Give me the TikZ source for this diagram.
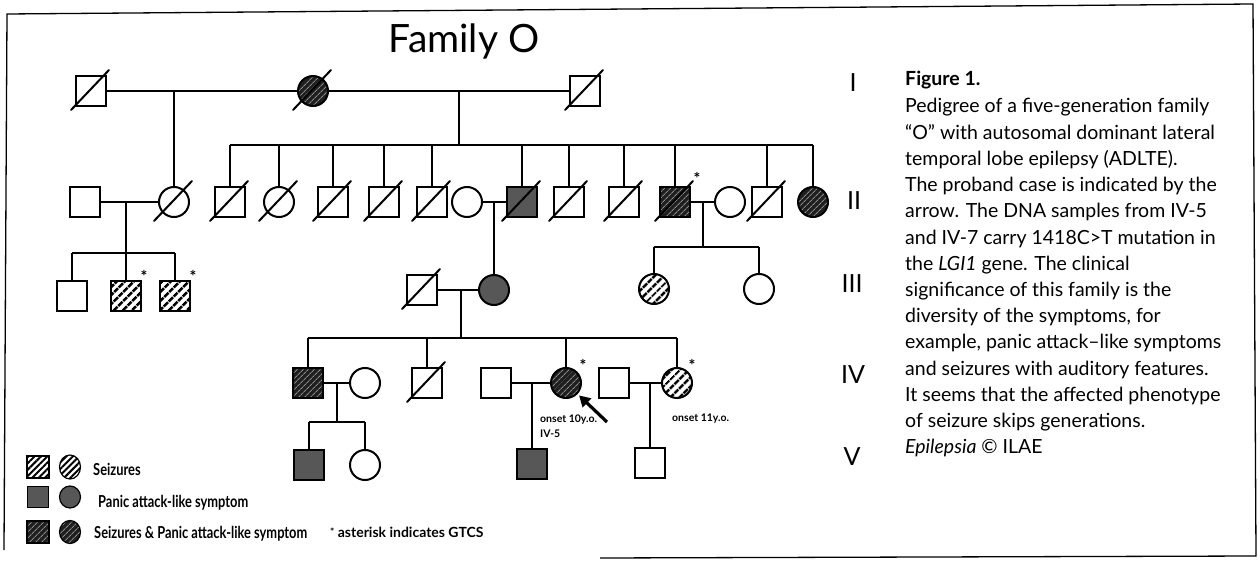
\documentclass[tikz,border=0pt]{standalone}
\usepackage{fontspec}
\setmainfont{Lato}
\newfontfamily\legfont[FakeStretch=0.78]{Lato}
\usetikzlibrary{patterns.meta,arrows.meta,shapes.geometric}

% diagonal stroke through a deceased individual
\newcommand\deceased[1]{\draw[slashline] ([shift={(-20,19)}]#1.center) -- ([shift={(18,-21)}]#1.center);}

\begin{document}
\begin{tikzpicture}[x=1pt,y=-1pt,
  ind/.style={draw=black,line width=2pt,inner sep=0pt,minimum size=30pt},
  male/.style={ind,rectangle},
  female/.style={ind,circle},
  seiz/.style={pattern={Lines[angle=45,distance=6.5pt,line width=3pt]},pattern color=black},
  seizS/.style={pattern={Lines[angle=45,distance=4.5pt,line width=2pt]},pattern color=black},
  panic/.style={fill=black!66},
  both/.style={preaction={fill=black!88},pattern={Lines[angle=45,distance=4pt,line width=0.9pt]},pattern color=black!45},
  link/.style={line width=1.8pt},
  slashline/.style={line width=2pt,line cap=round},
  gtcs/.style={font=\bfseries\fontsize{16}{16}\selectfont,inner sep=0pt},
  gen/.style={font=\fontsize{25}{25}\selectfont,inner sep=0pt},
  note/.style={font=\bfseries\fontsize{10.5}{10.5}\selectfont,inner sep=0pt,anchor=base west},
  captxt/.style={font=\fontsize{19.5}{19.5}\selectfont,inner sep=0pt,anchor=base west},
  legtxt/.style={font=\legfont\bfseries\fontsize{16.5}{16.5}\selectfont,inner sep=0pt,anchor=base west},
  legsym/.style={draw=black,line width=1.2pt,inner sep=0pt},
  probandarrow/.style={line width=3.2pt,-{Triangle[length=11pt,width=12pt]},shorten >=2pt},
]
\useasboundingbox (0,0) rectangle (1260,561);

% frame
\draw[line width=1.3pt] (4,550) -- (7,14) -- (1253,4) -- (1256,556) -- (600,558);

% title
\node[font=\fontsize{39}{39}\selectfont,inner sep=0pt,anchor=base] (title) at (464,53) {Family O};

% ---------- generation I ----------
\node[male] (I1) at (91,91) {};
\node[female,both] (I2) at (313,91) {};
\node[male] (I3) at (585,91) {};
\deceased{I1}\deceased{I2}\deceased{I3}
\coordinate (mI12) at (174,91);
\coordinate (mI23) at (459,91);
\coordinate (sibII) at (0,145);
\draw[link] (I1) -- (I2);
\draw[link] (I2) -- (I3);

% ---------- generation II ----------
\node[male] (II1) at (85,202) {};
\node[female] (II2) at (174,202) {};
\node[male] (II3) at (230,202) {};
\node[female] (II4) at (279,202) {};
\node[male] (II5) at (333,202) {};
\node[male] (II6) at (384,202) {};
\node[male] (II7) at (432,202) {};
\node[female] (II8) at (467,202) {};
\node[male,panic] (II9) at (522,202) {};
\node[male] (II10) at (569,202) {};
\node[male] (II11) at (624,202) {};
\node[male,both] (II12) at (675,202) {};
\node[female] (II13) at (730,202) {};
\node[male] (II14) at (767,202) {};
\node[female,both] (II15) at (813,202) {};
\foreach \n in {II2,II3,II4,II5,II6,II7,II9,II10,II11,II12,II14} {\deceased{\n}}
\node[gtcs] (stII12) at (697,178) {*};

% descent from I-1 x I-2
\draw[link] (mI12) -- (II2);
% descent from I-2 x I-3 and sibship
\draw[link] (mI23) -- (mI23 |- sibII);
\draw[link] (II3 |- sibII) -- (II15 |- sibII);
\foreach \n in {II3,II4,II5,II6,II7,II9,II10,II11,II12,II14,II15} {\draw[link] (\n) -- (\n |- sibII);}

% marriages in generation II
\draw[link] (II1) -- (II2);
\draw[link] (II8) -- (II9);
\draw[link] (II12) -- (II13);
\coordinate (mII12) at (126,202);
\coordinate (mII89) at (494,202);
\coordinate (mII1213) at (703,202);
\coordinate (sibIIIa) at (0,253);
\coordinate (sibIIIb) at (0,247);

% ---------- generation III ----------
\node[male] (III1) at (72,296) {};
\node[male,seiz] (III2) at (126,296) {};
\node[male,seiz] (III3) at (175,296) {};
\node[male] (III4) at (422,290) {};
\node[female,panic] (III5) at (494,290) {};
\node[female,seiz] (III6) at (654,289) {};
\node[female] (III7) at (759,289) {};
\deceased{III4}
\node[gtcs] (stIII2) at (144,276) {*};
\node[gtcs] (stIII3) at (193,276) {*};

\draw[link] (mII12) -- (mII12 |- sibIIIa);
\draw[link] (III1 |- sibIIIa) -- (III3 |- sibIIIa);
\foreach \n in {III1,III2,III3} {\draw[link] (\n) -- (\n |- sibIIIa);}
\draw[link] (mII89) -- (III5);
\draw[link] (mII1213) -- (mII1213 |- sibIIIb);
\draw[link] (III6 |- sibIIIb) -- (III7 |- sibIIIb);
\foreach \n in {III6,III7} {\draw[link] (\n) -- (\n |- sibIIIb);}

\draw[link] (III4) -- (III5);
\coordinate (mIII45) at (461,290);
\coordinate (sibIV) at (0,338);

% ---------- generation IV ----------
\node[male,both] (IV1) at (308,383) {};
\node[female] (IV2) at (365,383) {};
\node[male] (IV3) at (427,383) {};
\node[male] (IV4) at (496,383) {};
\node[female,both] (IV5) at (566,383) {};
\node[male] (IV6) at (614,383) {};
\node[female,seiz] (IV7) at (677,383) {};
\deceased{IV3}
\node[gtcs] (stIV5) at (583,365) {*};
\node[gtcs] (stIV7) at (692,365) {*};

\draw[link] (mIII45) -- (mIII45 |- sibIV);
\draw[link] (IV1 |- sibIV) -- (IV7 |- sibIV);
\foreach \n in {IV1,IV3,IV5,IV7} {\draw[link] (\n) -- (\n |- sibIV);}

\draw[link] (IV1) -- (IV2);
\draw[link] (IV4) -- (IV5);
\draw[link] (IV6) -- (IV7);
\coordinate (mIV12) at (337,383);
\coordinate (mIV45) at (532,383);
\coordinate (mIV67) at (650,383);
\coordinate (sibV) at (0,422);

% ---------- generation V ----------
\node[male,panic] (V1) at (309,465) {};
\node[female] (V2) at (365,465) {};
\node[male,panic] (V3) at (532,464) {};
\node[male] (V4) at (650,463) {};

\draw[link] (mIV12) -- (mIV12 |- sibV);
\draw[link] (V1 |- sibV) -- (V2 |- sibV);
\foreach \n in {V1,V2} {\draw[link] (\n) -- (\n |- sibV);}
\draw[link] (mIV45) -- (V3);
\draw[link] (mIV67) -- (V4);

% proband arrow and notes
\coordinate (arrtail) at (607,422);
\draw[probandarrow] (arrtail) -- (IV5);
\node[note] (on10) at (540,422) {onset 10y.o.};
\node[note] (iv5) at (540,437) {IV-5};
\node[note] (on11) at (672,421) {onset 11y.o.};

% generation numerals
\node[gen] (gI) at (853,83) {I};
\node[gen] (gII) at (854,201) {II};
\node[gen] (gIII) at (852,284) {III};
\node[gen] (gIV) at (853,375) {IV};
\node[gen] (gV) at (852,457) {V};

% legend
\node[legsym,rectangle,minimum size=22pt,seizS] (lgA1) at (38,467) {};
\node[legsym,ellipse,minimum width=21pt,minimum height=24pt,seizS] (lgA2) at (70,467) {};
\node[legsym,rectangle,minimum size=21pt,panic] (lgB1) at (38,497) {};
\node[legsym,ellipse,minimum width=21pt,minimum height=22pt,panic] (lgB2) at (70,497) {};
\node[legsym,rectangle,minimum size=22pt,both] (lgC1) at (38,532) {};
\node[legsym,ellipse,minimum width=21pt,minimum height=23pt,both] (lgC2) at (70,532) {};
\node[legtxt] (lgAt) at (93,475) {Seizures};
\node[legtxt] (lgBt) at (98,507) {Panic attack-like symptom};
\node[legtxt] (lgCt) at (94,538) {Seizures \& Panic attack-like symptom};
\node[legtxt,font=\bfseries\fontsize{14}{14}\selectfont] (lgD) at (330,537) {\raisebox{2pt}{\fontsize{10}{10}\selectfont*} asterisk indicates GTCS};

% caption
\node[captxt,font=\bfseries\fontsize{19.5}{19.5}\selectfont] (fig) at (905,86) {Figure 1.};
\foreach \t [count=\i from 0] in {
  {Pedigree of a five-generation family},
  {“O” with autosomal dominant lateral},
  {temporal lobe epilepsy (ADLTE).},
  {The proband case is indicated by the},
  {arrow. The DNA samples from IV-5},
  {and IV-7 carry 1418C>T mutation in},
  {the \textit{LGI1} gene. The clinical},
  {significance of this family is the},
  {diversity of the symptoms, for},
  {example, panic attack–like symptoms},
  {and seizures with auditory features.},
  {It seems that the affected phenotype},
  {of seizure skips generations.},
  {\textit{Epilepsia} © ILAE}}
  {\node[captxt] (cap\i) at (905,{113+26.2*\i}) {\t};}
\end{tikzpicture}
\end{document}
